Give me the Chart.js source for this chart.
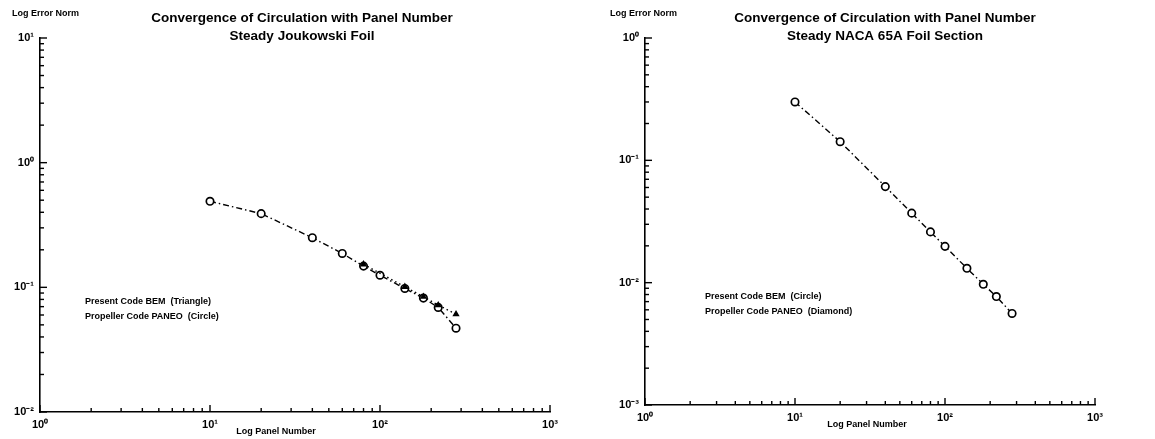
<!DOCTYPE html>
<html>
<head>
<meta charset="utf-8">
<script src="https://cdn.jsdelivr.net/npm/chart.js@4.4.1/dist/chart.umd.min.js"></script>
<style>
  html, body { margin: 0; padding: 0; background: #fff; }
  #wrap { position: relative; width: 1155px; height: 439px; }
  .pane { position: absolute; top: 0; height: 439px; }
  #paneA { left: 0; width: 575px; }
  #paneB { left: 575px; width: 580px; }
</style>
</head>
<body>
<div id="wrap">
  <div class="pane" id="paneA"><canvas id="chartA" width="575" height="439"></canvas></div>
  <div class="pane" id="paneB"><canvas id="chartB" width="580" height="439"></canvas></div>
</div>
<script>
// Joukowski foil: error norm of circulation vs number of panels
const joukPanels = [10, 20, 40, 60, 80, 100, 140, 180, 220, 280];
const joukCircleErr = [0.49, 0.39, 0.25, 0.187, 0.148, 0.125, 0.098, 0.082, 0.069, 0.047];
const joukTrianglePanels = [80, 140, 180, 220, 280];
const joukTriangleErr = [0.153, 0.101, 0.084, 0.072, 0.061];

// NACA 65A foil section
const nacaPanels = [10, 20, 40, 60, 80, 100, 140, 180, 220, 280];
const nacaCircleErr = [0.30, 0.142, 0.061, 0.037, 0.026, 0.0198, 0.0131, 0.0097, 0.0077, 0.0056];

// axis decades (exponents)
const joukXDecades = [0, 1, 2, 3];
const joukYDecades = [-2, -1, 0, 1];
const nacaXDecades = [0, 1, 2, 3];
const nacaYDecades = [-3, -2, -1, 0];

const titlesA = ['Convergence of Circulation with Panel Number', 'Steady Joukowski Foil'];
const titlesB = ['Convergence of Circulation with Panel Number', 'Steady NACA 65A Foil Section'];
const notesA = ['Present Code BEM  (Triangle)', 'Propeller Code PANEO  (Circle)'];
const notesB = ['Present Code BEM  (Circle)', 'Propeller Code PANEO  (Diamond)'];
const yTitle = 'Log Error Norm';
const xTitle = 'Log Panel Number';

const SUP = { '-': '\u207B', '0': '\u2070', '1': '\u00B9', '2': '\u00B2', '3': '\u00B3' };
function powLabel(e) {
  return '10' + String(e).split('').map(c => SUP[c]).join('');
}

function logTicks(decades) {
  const out = [];
  for (let i = 0; i < decades.length; i++) {
    const base = Math.pow(10, decades[i]);
    out.push(base);
    if (i < decades.length - 1) {
      for (let k = 2; k <= 9; k++) out.push(k * base);
    }
  }
  return out;
}
function isDecade(v) {
  const l = Math.log10(v);
  return Math.abs(l - Math.round(l)) < 1e-9;
}

const SMALL_FONT = 'bold 9px "Liberation Sans", Arial, sans-serif';

// Draws short inward-pointing ticks plus the text annotations
function makeDecor(opts) {
  return {
    id: 'decor',
    afterDraw(chart) {
      const ctx = chart.ctx;
      const ca = chart.chartArea;
      const xs = chart.scales.x, ys = chart.scales.y;
      ctx.save();
      ctx.strokeStyle = '#000';
      ctx.lineWidth = 1.4;
      xs.ticks.forEach(t => {
        const px = xs.getPixelForValue(t.value);
        const len = isDecade(t.value) ? 7 : 4;
        ctx.beginPath();
        ctx.moveTo(px, ca.bottom);
        ctx.lineTo(px, ca.bottom - len);
        ctx.stroke();
      });
      ys.ticks.forEach(t => {
        const py = ys.getPixelForValue(t.value);
        const len = isDecade(t.value) ? 7 : 4;
        ctx.beginPath();
        ctx.moveTo(ca.left, py);
        ctx.lineTo(ca.left + len, py);
        ctx.stroke();
      });
      ctx.fillStyle = '#000';
      // titles
      ctx.font = 'bold 13.5px "Liberation Sans", Arial, sans-serif';
      ctx.textAlign = 'center';
      ctx.textBaseline = 'middle';
      ctx.fillText(opts.titles[0], opts.titleX, 18);
      ctx.fillText(opts.titles[1], opts.titleX, 36);
      // axis titles
      ctx.font = SMALL_FONT;
      ctx.textAlign = 'left';
      ctx.fillText(yTitle, opts.yTitleX, 14);
      ctx.textAlign = 'center';
      ctx.fillText(xTitle, opts.xTitleX, opts.xTitleY);
      // annotations
      ctx.textAlign = 'left';
      ctx.fillText(opts.notes[0], opts.noteX, opts.noteY);
      ctx.fillText(opts.notes[1], opts.noteX, opts.noteY + 15);
      ctx.restore();
    }
  };
}

function axisCfg(decades, pos, size) {
  const ticks = logTicks(decades);
  return {
    type: 'logarithmic',
    position: pos,
    min: Math.pow(10, decades[0]),
    max: Math.pow(10, decades[decades.length - 1]),
    afterBuildTicks(scale) { scale.ticks = ticks.map(v => ({ value: v })); },
    afterFit(scale) {
      if (pos === 'left') scale.width = size; else scale.height = size;
    },
    grid: { display: false, drawTicks: false },
    border: { display: true, color: '#000', width: 1.6 },
    ticks: {
      autoSkip: false,
      maxRotation: 0,
      color: '#000',
      padding: 6,
      font: { family: '"Liberation Sans", Arial, sans-serif', size: 11, weight: 'bold' },
      callback(v) { return isDecade(v) ? powLabel(Math.round(Math.log10(v))) : ''; }
    }
  };
}

const pointStyleBase = {
  pointBackgroundColor: '#fff',
  pointBorderColor: '#000',
  pointBorderWidth: 1.7,
  borderColor: '#000',
  borderWidth: 1.4,
  tension: 0,
  fill: false
};

function toXY(xs, ys) { return xs.map((x, i) => ({ x: x, y: ys[i] })); }

new Chart(document.getElementById('chartA'), {
  type: 'scatter',
  data: {
    datasets: [
      Object.assign({}, pointStyleBase, {
        label: 'BEM',
        data: toXY(joukTrianglePanels, joukTriangleErr),
        showLine: true,
        borderDash: [1.5, 3],
        pointStyle: 'triangle',
        pointRadius: 2.5,
        pointBackgroundColor: '#000'
      }),
      Object.assign({}, pointStyleBase, {
        label: 'PANEO',
        data: toXY(joukPanels, joukCircleErr),
        showLine: true,
        borderDash: [6, 3, 1.5, 3],
        pointStyle: 'circle',
        pointRadius: 3.7
      })
    ]
  },
  options: {
    responsive: false,
    animation: false,
    layout: { padding: { left: 0, right: 25, top: 38, bottom: 0 } },
    plugins: { legend: { display: false }, tooltip: { enabled: false } },
    scales: {
      x: axisCfg(joukXDecades, 'bottom', 27),
      y: axisCfg(joukYDecades, 'left', 40)
    }
  },
  plugins: [makeDecor({
    titles: titlesA, titleX: 302, yTitleX: 12, xTitleX: 276, xTitleY: 432,
    notes: notesA, noteX: 85, noteY: 302
  })]
});

new Chart(document.getElementById('chartB'), {
  type: 'scatter',
  data: {
    datasets: [
      Object.assign({}, pointStyleBase, {
        label: 'BEM',
        data: toXY(nacaPanels, nacaCircleErr),
        showLine: true,
        borderDash: [6, 3, 1.5, 3],
        pointStyle: 'circle',
        pointRadius: 3.7
      })
    ]
  },
  options: {
    responsive: false,
    animation: false,
    layout: { padding: { left: 30, right: 60, top: 38, bottom: 0 } },
    plugins: { legend: { display: false }, tooltip: { enabled: false } },
    scales: {
      x: axisCfg(nacaXDecades, 'bottom', 34),
      y: axisCfg(nacaYDecades, 'left', 40)
    }
  },
  plugins: [makeDecor({
    titles: titlesB, titleX: 310, yTitleX: 35, xTitleX: 292, xTitleY: 425,
    notes: notesB, noteX: 130, noteY: 297
  })]
});
</script>
</body>
</html>
